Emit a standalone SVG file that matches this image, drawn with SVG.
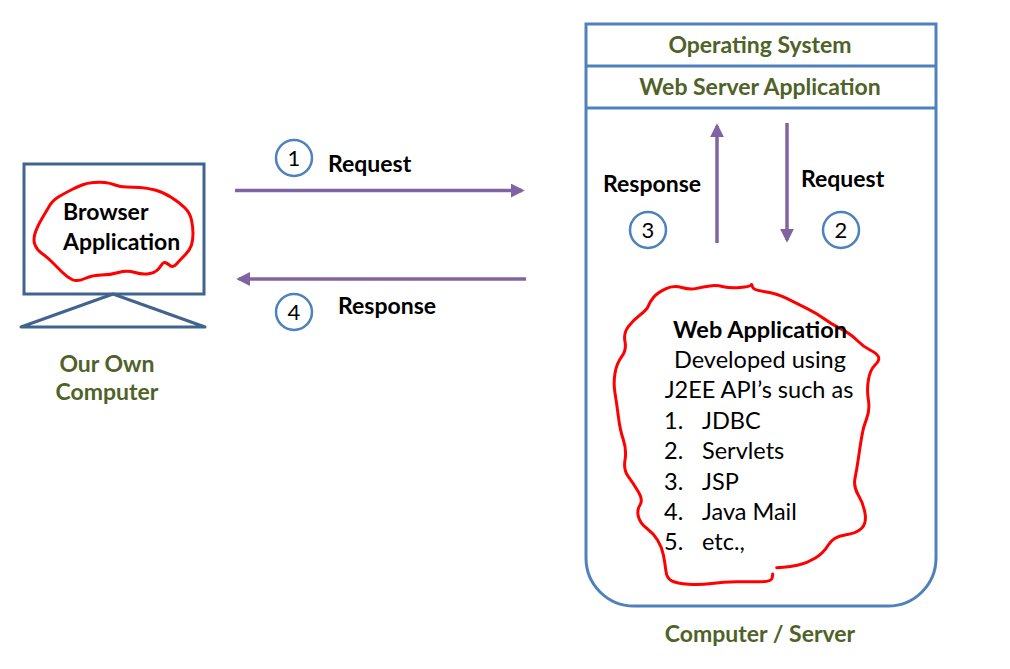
<svg xmlns="http://www.w3.org/2000/svg" width="1010" height="669" viewBox="0 0 1010 669">
<defs>
<style>
.t{font-family:Lato,"Open Sans","Liberation Sans",sans-serif;}
.b{font-weight:bold;}
.g{fill:#4F6228;font-weight:bold;font-size:23px;}
.lbl{fill:#000;font-weight:bold;font-size:23px;}
.num{fill:#000;font-size:22px;}
.body{fill:#000;font-size:23.5px;}
.circ{fill:#fff;stroke:#4F81BD;stroke-width:2.5;}
.arr{stroke:#8064A2;stroke-width:3.5;fill:none;}
.blob{fill:none;stroke:#FF0000;stroke-width:3;stroke-linejoin:round;stroke-linecap:round;}
</style>
<marker id="ah" viewBox="0 0 10 10" refX="8" refY="5" markerWidth="4" markerHeight="4" markerUnits="strokeWidth" orient="auto">
<path d="M0,0 L10,5 L0,10 Z" fill="#8064A2"/>
</marker>
</defs>
<rect width="1010" height="669" fill="#fff"/>

<g id="our-computer">
<rect x="24" y="164" width="180" height="130" fill="#fff" stroke="#41648F" stroke-width="3"/>
<path d="M113,294 L21,327 L205,327 Z" fill="none" stroke="#41648F" stroke-width="3" stroke-linejoin="round"/>
<path class="blob" d="M72,189.5 Q77,187 82,185 Q87,183 93.5,182.5 Q100,182 105,182.5 Q110,183 115,185 Q120,187 126.5,187 Q133,187 140,187.5 Q147,188 155,190 Q163,192 171.5,197.5 Q180,203 185,208 Q190,213 191.5,220 Q193,227 193,233.5 Q193,240 191.5,245 Q190,250 185,255 Q180,260 176.5,264 Q173,268 170,265.5 Q167,263 165,262.5 Q163,262 160,267 Q157,272 150,273.5 Q143,275 135,272.5 Q127,270 118.5,272.5 Q110,275 101.5,275 Q93,275 85,278.5 Q77,282 72,279.5 Q67,277 62,272 Q57,267 52,262 Q47,257 42,253.5 Q37,250 35,245 Q33,240 35,233.5 Q37,227 42,218.5 Q47,210 50,205 Q53,200 60,196 Q67,192 72,189.5 Z"/>
<text class="t lbl" x="63" y="220">Browser</text>
<text class="t lbl" x="63" y="250">Application</text>
<text class="t g" x="107" y="372" text-anchor="middle">Our Own</text>
<text class="t g" x="107" y="400" text-anchor="middle">Computer</text>
</g>

<g id="server">
<path d="M586,24 H936 V558 A48,48 0 0 1 888,606 H634 A48,48 0 0 1 586,558 Z" fill="#fff" stroke="#4F81BD" stroke-width="3"/>
<line x1="586" y1="66" x2="936" y2="66" stroke="#4F81BD" stroke-width="3"/>
<line x1="586" y1="108" x2="936" y2="108" stroke="#4F81BD" stroke-width="3"/>
<text class="t g" x="760" y="53" text-anchor="middle">Operating System</text>
<text class="t g" x="760" y="95" text-anchor="middle">Web Server Application</text>
<text class="t g" x="760" y="642" text-anchor="middle">Computer / Server</text>
</g>

<g id="web-application">
<path class="blob" d="M772.7,574 L772.2,577.9 Q771.7,581.7 760.9,581.7 Q750,581.7 736.7,581.7 Q723.3,581.7 711.7,583.4 Q700,585 688.4,584.2 Q676.7,583.3 671.7,580.8 Q666.7,578.3 665.9,570.8 Q665,563.3 663.4,555 Q661.7,546.7 657.5,540 Q653.3,533.3 646.7,528.3 Q640,523.3 638.4,516.7 Q636.7,510 640,505 Q643.3,500 638.3,491.7 Q633.3,483.3 628.3,476.7 Q623.3,470 625,460 Q626.7,450 623.4,440 Q620,430 618.4,416.7 Q616.7,403.3 615,393.3 Q613.3,383.3 615,373.3 Q616.7,363.3 621.7,356.7 Q626.7,350 625,341.7 Q623.3,333.3 628.3,326.7 Q633.3,320 640,315 Q646.7,310 648.4,305.9 Q650,301.7 653.4,297.5 Q656.7,293.3 665,289.2 Q673.3,285 681.7,287.5 Q690,290 696.7,288.4 Q703.3,286.7 710,285.9 Q716.7,285 723.4,286.7 Q730,288.3 740,287.5 Q750,286.7 750.9,285 Q751.7,283.3 752.4,286.7 Q753,290 764.9,291.7 Q776.7,293.3 786.7,298.3 Q796.7,303.3 806.7,308.3 Q816.7,313.3 823.4,318.3 Q830,323.3 840,328.3 Q850,333.3 856.7,340 Q863.3,346.7 870,350 Q876.7,353.3 878.4,356.7 Q880,360 875,365 Q870,370 868.4,380 Q866.7,390 868.4,400 Q870,410 866.7,418.4 Q863.3,426.7 861.7,436.7 Q860,446.7 858.4,458.4 Q856.7,470 855,478.4 Q853.3,486.7 858.3,495 Q863.3,503.3 865,513.3 Q866.7,523.3 861.7,528.3 Q856.7,533.3 845,535 Q833.3,536.7 828.3,545 Q823.3,553.3 815,558.3 Q806.7,563.3 798.4,565 Q790,566.7 783.4,567.2 L776.7,567.7"/>
<text class="t body b" x="760" y="338" text-anchor="middle">Web Application</text>
<text class="t body" x="760" y="368" text-anchor="middle">Developed using</text>
<text class="t body" x="759" y="398" text-anchor="middle">J2EE API’s such as</text>
<text class="t body" x="664" y="429">1.</text><text class="t body" x="702" y="429">JDBC</text>
<text class="t body" x="664" y="459">2.</text><text class="t body" x="702" y="459">Servlets</text>
<text class="t body" x="664" y="490">3.</text><text class="t body" x="702" y="490">JSP</text>
<text class="t body" x="664" y="520">4.</text><text class="t body" x="702" y="520">Java Mail</text>
<text class="t body" x="664" y="550">5.</text><text class="t body" x="702" y="550">etc.,</text>
</g>

<g id="connectors">
<line class="arr" x1="235" y1="190.5" x2="522" y2="190.5" marker-end="url(#ah)"/>
<line class="arr" x1="526" y1="279" x2="239" y2="279" marker-end="url(#ah)"/>
<line class="arr" x1="717" y1="243" x2="717" y2="126" marker-end="url(#ah)"/>
<line class="arr" x1="787" y1="123" x2="787" y2="240" marker-end="url(#ah)"/>
</g>

<g id="step-1">
<circle class="circ" cx="294" cy="158" r="18"/>
<text class="t num" x="294" y="166" text-anchor="middle">1</text>
<text class="t lbl" x="328" y="172">Request</text>
</g>
<g id="step-2">
<circle class="circ" cx="841" cy="230" r="18"/>
<text class="t num" x="841" y="238" text-anchor="middle">2</text>
<text class="t lbl" x="801" y="187">Request</text>
</g>
<g id="step-3">
<circle class="circ" cx="648" cy="230" r="18"/>
<text class="t num" x="648" y="238" text-anchor="middle">3</text>
<text class="t lbl" x="603" y="192">Response</text>
</g>
<g id="step-4">
<circle class="circ" cx="294" cy="312" r="18"/>
<text class="t num" x="294" y="320" text-anchor="middle">4</text>
<text class="t lbl" x="338" y="314">Response</text>
</g>
</svg>
